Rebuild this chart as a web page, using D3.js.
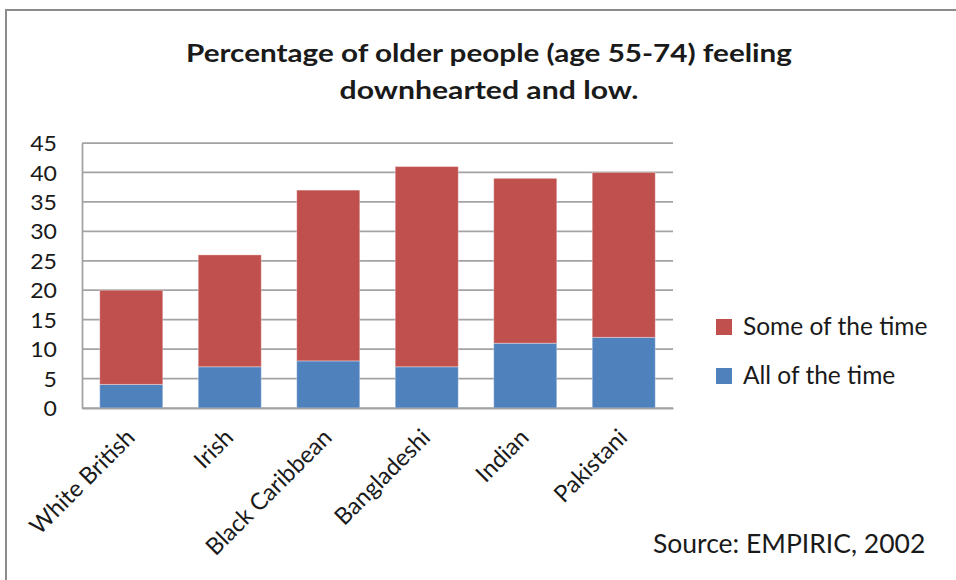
<!DOCTYPE html>
<html>
<head>
<meta charset="utf-8">
<script src="https://cdn.jsdelivr.net/npm/d3@7"></script>
<style>
  html, body { margin: 0; padding: 0; background: #fff; }
  svg { display: block; }
  text { font-family: Lato, "Open Sans", sans-serif; fill: #1a1a1a; }
</style>
</head>
<body>
<svg id="chart" width="956" height="580"></svg>
<script>
// Ethnic groups on the category axis
const categories = ["White British", "Irish", "Black Caribbean", "Bangladeshi", "Indian", "Pakistani"];
// Percent feeling downhearted and low all of the time
const allOfTheTime = [4, 7, 8, 7, 11, 12];
// Percent feeling downhearted and low some of the time (stacked on top)
const someOfTheTime = [16, 19, 29, 34, 28, 28];
// Value axis ticks
const yTicks = [0, 5, 10, 15, 20, 25, 30, 35, 40, 45];

const seriesNames = ["All of the time", "Some of the time"];
const seriesColors = ["#4F81BD", "#C0504D"];

const svg = d3.select("#chart");

// Widen a text run horizontally by a factor, keeping its anchor
function widen(sel, factor) {
  sel.each(function () {
    const len = this.getComputedTextLength();
    d3.select(this)
      .attr("textLength", len * factor)
      .attr("lengthAdjust", "spacingAndGlyphs");
  });
}

// Outer frame of the chart
svg.append("rect")
  .attr("x", 6).attr("y", 10)
  .attr("width", 980).attr("height", 600)
  .attr("fill", "#fff")
  .attr("stroke", "#8c8c8c")
  .attr("stroke-width", 2);

// Title, two lines
const titleLines = [
  { text: "Percentage of older people (age 55-74) feeling", y: 62, width: 606 },
  { text: "downhearted and low.", y: 99, width: 299 }
];
svg.append("g")
  .selectAll("text")
  .data(titleLines)
  .join("text")
  .attr("x", 489)
  .attr("y", d => d.y)
  .attr("text-anchor", "middle")
  .attr("font-weight", "bold")
  .attr("font-size", 24)
  .attr("textLength", d => d.width)
  .attr("lengthAdjust", "spacingAndGlyphs")
  .text(d => d.text);

const plot = { left: 82, right: 673, top: 143, bottom: 408 };

const x = d3.scaleBand()
  .domain(categories)
  .range([plot.left, plot.right])
  .paddingInner(0.36)
  .paddingOuter(0.18);

const y = d3.scaleLinear()
  .domain([0, 45])
  .range([plot.bottom, plot.top]);

// Horizontal gridlines
svg.append("g")
  .selectAll("line")
  .data(yTicks)
  .join("line")
  .attr("x1", plot.left).attr("x2", plot.right)
  .attr("y1", d => y(d)).attr("y2", d => y(d))
  .attr("stroke", "#a3a3a3")
  .attr("stroke-width", 1.75);

// Stack the two series
const rows = categories.map((c, i) => ({
  cat: c,
  "All of the time": allOfTheTime[i],
  "Some of the time": someOfTheTime[i]
}));
const stacked = d3.stack().keys(seriesNames)(rows);

svg.append("g")
  .selectAll("g")
  .data(stacked)
  .join("g")
  .attr("fill", (d, i) => seriesColors[i])
  .selectAll("rect")
  .data(d => d)
  .join("rect")
  .attr("x", d => x(d.data.cat))
  .attr("width", x.bandwidth())
  .attr("y", d => y(d[1]))
  .attr("height", d => y(d[0]) - y(d[1]))
  .attr("stroke", "rgba(255,255,255,0.35)")
  .attr("stroke-width", 1);

// Value axis (left)
const yAxis = d3.axisLeft(y).tickValues(yTicks).tickSize(0).tickPadding(0);
const yG = svg.append("g")
  .attr("transform", `translate(${plot.left},0)`)
  .call(yAxis);
yG.select(".domain").attr("stroke", "#a3a3a3").attr("stroke-width", 1.75);
yG.selectAll("text")
  .attr("x", -25)
  .attr("dy", "0.36em")
  .attr("font-size", 21)
  .attr("font-family", "Lato, sans-serif")
  .attr("fill", "#1a1a1a")
  .call(widen, 1.1);

// Category axis (bottom) with slanted labels
const xAxis = d3.axisBottom(x).tickSize(0);
const xG = svg.append("g")
  .attr("transform", `translate(0,${plot.bottom})`)
  .call(xAxis);
xG.select(".domain").attr("stroke", "#a3a3a3").attr("stroke-width", 1.75);
xG.selectAll("text")
  .attr("font-size", 23.5)
  .attr("font-family", "Lato, sans-serif")
  .attr("fill", "#1a1a1a")
  .attr("text-anchor", "end")
  .attr("dy", 0)
  .attr("y", 0)
  .attr("transform", "translate(5,31) rotate(-45)");

// Legend
const legendItems = [
  { name: "Some of the time", color: seriesColors[1], y: 327 },
  { name: "All of the time", color: seriesColors[0], y: 376 }
];
const lg = svg.append("g");
lg.selectAll("rect")
  .data(legendItems)
  .join("rect")
  .attr("x", 716).attr("y", d => d.y - 8)
  .attr("width", 16).attr("height", 16)
  .attr("fill", d => d.color);
lg.selectAll("text")
  .data(legendItems)
  .join("text")
  .attr("x", 743).attr("y", d => d.y + 8)
  .attr("font-size", 24.5)
  .text(d => d.name);

// Source note
svg.append("text")
  .attr("x", 653).attr("y", 553)
  .attr("font-size", 26.5)
  .text("Source: EMPIRIC, 2002");
</script>
</body>
</html>
